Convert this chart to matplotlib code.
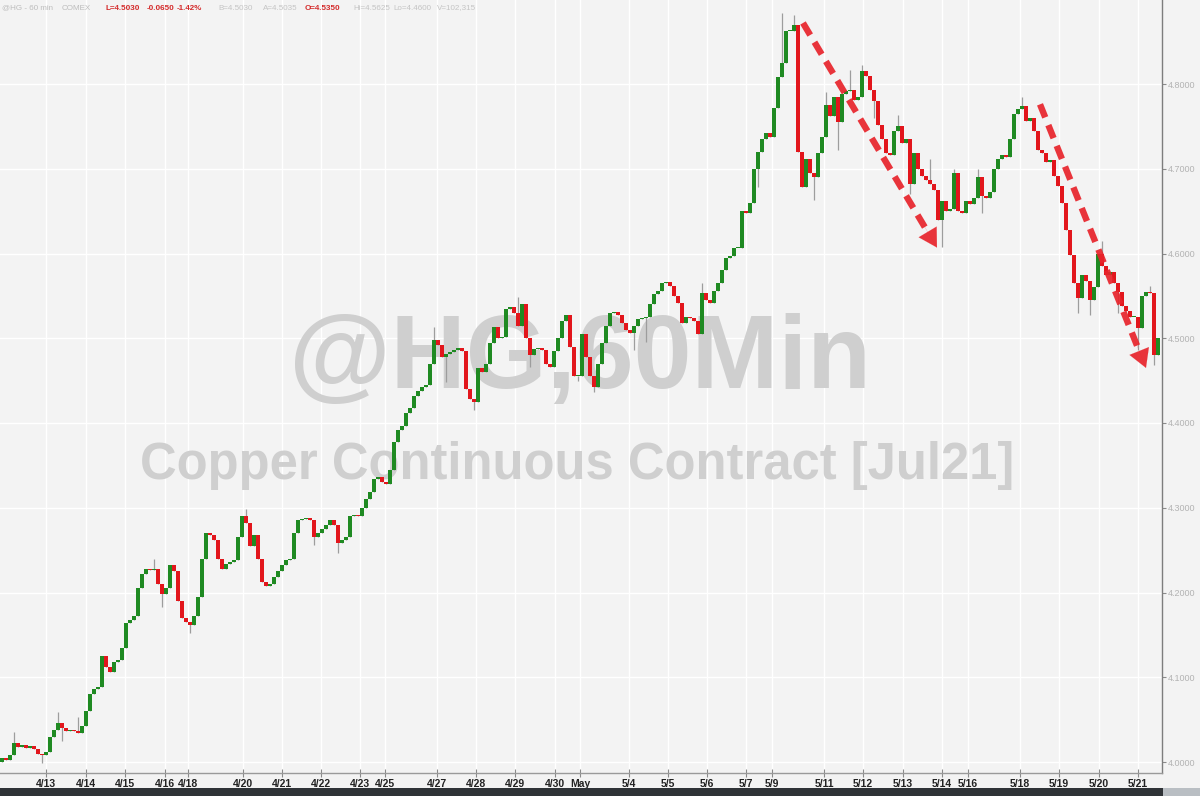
import matplotlib
matplotlib.use("Agg")
import matplotlib.pyplot as plt
from matplotlib.patches import Rectangle
import numpy as np

# ---------------- data ----------------
# closing prices of the candles (about 2.5 hourly bars per candle), in time order
closes_apr_a = [4.005, 4.002, 4.008, 4.022, 4.018, 4.020, 4.016, 4.019, 4.015, 4.010,
                4.008, 4.012, 4.030, 4.038, 4.046, 4.040, 4.036, 4.038, 4.037, 4.034,
                4.042, 4.060, 4.080, 4.086, 4.088, 4.125, 4.112, 4.106, 4.118, 4.120,
                4.135, 4.164, 4.168, 4.172, 4.205, 4.222, 4.228, 4.226, 4.228, 4.210,
                4.198, 4.205, 4.232, 4.225, 4.190, 4.170, 4.165, 4.162, 4.172, 4.195,
                4.240, 4.270, 4.268, 4.262, 4.240, 4.228, 4.234, 4.236, 4.238, 4.265]
closes_apr_b = [4.290, 4.282, 4.255, 4.268, 4.240, 4.212, 4.208, 4.210, 4.218, 4.225,
                4.232, 4.238, 4.240, 4.270, 4.286, 4.287, 4.288, 4.285, 4.265, 4.270,
                4.275, 4.280, 4.286, 4.280, 4.258, 4.262, 4.266, 4.290, 4.292, 4.290,
                4.300, 4.310, 4.318, 4.334, 4.336, 4.330, 4.328, 4.345, 4.378, 4.392,
                4.396, 4.412, 4.418, 4.432, 4.438, 4.442, 4.445, 4.470, 4.498, 4.492,
                4.478, 4.482, 4.484, 4.486, 4.488, 4.485, 4.440, 4.428, 4.425, 4.465]
closes_may_a = [4.460, 4.470, 4.494, 4.513, 4.500, 4.502, 4.535, 4.537, 4.530, 4.515,
                4.540, 4.500, 4.480, 4.487, 4.488, 4.486, 4.470, 4.466, 4.485, 4.500,
                4.520, 4.528, 4.490, 4.455, 4.455, 4.505, 4.478, 4.455, 4.443, 4.470,
                4.494, 4.515, 4.530, 4.531, 4.528, 4.518, 4.510, 4.506, 4.515, 4.523,
                4.524, 4.525, 4.540, 4.552, 4.556, 4.565, 4.566, 4.562, 4.550, 4.542,
                4.518, 4.525, 4.524, 4.520, 4.505, 4.553, 4.545, 4.542, 4.556, 4.565,
                4.580, 4.595]
closes_may_b = [4.597, 4.606, 4.606, 4.650, 4.648, 4.660, 4.700, 4.720, 4.735, 4.742,
                4.738, 4.772, 4.808, 4.825, 4.862, 4.863, 4.870, 4.720, 4.678, 4.712,
                4.695, 4.690, 4.718, 4.738, 4.775, 4.762, 4.785, 4.755, 4.788, 4.792,
                4.793, 4.781, 4.785, 4.815, 4.810, 4.793, 4.780, 4.752, 4.735, 4.718,
                4.716, 4.745, 4.750, 4.730, 4.735, 4.682, 4.718, 4.700, 4.692, 4.687,
                4.682, 4.675, 4.640, 4.662, 4.650, 4.652, 4.695]
closes_may_c = [4.650, 4.648, 4.662, 4.658, 4.665, 4.690, 4.668, 4.665, 4.672, 4.700,
                4.712, 4.716, 4.714, 4.735, 4.765, 4.770, 4.774, 4.756, 4.760, 4.745,
                4.722, 4.718, 4.708, 4.710, 4.692, 4.680, 4.660, 4.628, 4.598, 4.565,
                4.548, 4.575, 4.568, 4.545, 4.560, 4.600, 4.585, 4.575, 4.578, 4.565,
                4.555, 4.538, 4.532, 4.525, 4.525, 4.512, 4.550, 4.555, 4.553, 4.480,
                4.500]
first_open = 4.000

# notable wick extremes {candle index: price}
wick_high = {3: 4.035, 14: 4.059, 19: 4.053, 38: 4.240, 61: 4.298, 108: 4.513,
             129: 4.549, 175: 4.565, 195: 4.884, 198: 4.881, 206: 4.790, 212: 4.816,
             215: 4.823, 224: 4.763, 232: 4.712, 238: 4.700, 244: 4.700, 255: 4.785,
             275: 4.615, 287: 4.562}
wick_low = {10: 3.999, 15: 4.025, 40: 4.183, 47: 4.152, 78: 4.256, 84: 4.247,
            101: 4.400, 111: 4.448, 118: 4.415, 132: 4.466, 144: 4.450, 148: 4.436,
            158: 4.486, 161: 4.496, 189: 4.678, 200: 4.684, 203: 4.663, 209: 4.722,
            218: 4.760, 227: 4.670, 235: 4.608, 245: 4.648, 269: 4.530, 272: 4.527,
            279: 4.530, 284: 4.486, 288: 4.468}

# date labels and the candle index at which each date starts
date_labels = ["4/13", "4/14", "4/15", "4/16", "4/18", "4/20", "4/21", "4/22", "4/23",
               "4/25", "4/27", "4/28", "4/29", "4/30", "May", "5/4", "5/5", "5/6", "5/7",
               "5/9", "5/11", "5/12", "5/13", "5/14", "5/16", "5/18", "5/19", "5/20", "5/21"]
date_index = [11.0, 21.0, 30.75, 40.75, 46.5, 60.25, 70.0, 79.75, 89.5, 95.75, 108.75,
              118.5, 128.25, 138.25, 144.5, 156.75, 166.5, 176.25, 186.0, 192.5, 205.5,
              215.25, 225.25, 235.0, 241.5, 254.5, 264.25, 274.25, 284.0]
price_ticks = [4.0, 4.1, 4.2, 4.3, 4.4, 4.5, 4.6, 4.7, 4.8]

# trend arrows (start, tip) in (candle index, price)
arrow1 = [(200.25, 4.872), (233.75, 4.607)]
arrow2 = [(259.5, 4.776), (286.0, 4.465)]

header_parts = [("@HG - 60 min", "#bdbdbd"), ("COMEX", "#bdbdbd"),
                ("L=4.5030", "#d42a2a"), ("-0.0650", "#d42a2a"), ("-1.42%", "#d42a2a"),
                ("B=4.5030", "#c4c4c4"), ("A=4.5035", "#c4c4c4"), ("O=4.5350", "#d42a2a"),
                ("Hi=4.5625", "#c4c4c4"), ("Lo=4.4600", "#c4c4c4"), ("V=102,315", "#c4c4c4")]
header_x = [2, 62, 106, 147, 177, 218, 263, 305, 353, 393, 437]

# ---------------- figure ----------------
W, H = 1200, 796
BG = "#f3f3f3"
fig = plt.figure(figsize=(W / 100, H / 100), dpi=100, facecolor=BG)
ax_bottom_px = 773
ax = fig.add_axes([0, (H - ax_bottom_px) / H, 1162 / W, ax_bottom_px / H])
ax.set_facecolor(BG)

closes = np.array(closes_apr_a + closes_apr_b + closes_may_a + closes_may_b + closes_may_c)
n = len(closes)
idx = np.arange(n)
opens = np.concatenate([[first_open], closes[:-1]])
body_lo = np.minimum(opens, closes)
body_hi = np.maximum(opens, closes)
highs = body_hi.copy()
lows = body_lo.copy()
for k, v in wick_high.items():
    highs[k] = max(highs[k], v)
for k, v in wick_low.items():
    lows[k] = min(lows[k], v)

ax.set_xlim(-0.5, 290)
ax.set_ylim(4.0 - 11 / 847.5, 4.0 + 762 / 847.5)

# grid
for p in price_ticks:
    ax.axhline(p, color="white", lw=1.0, zorder=0.5)
for d in date_index:
    ax.axvline(d, color="white", lw=1.0, zorder=0.5)

# watermark
ax.text(0.499, 0.532, "@HG,60Min", transform=ax.transAxes, ha="center", va="center",
        fontsize=75, fontweight="bold", color="#cfcfcf", family="Liberation Sans", zorder=1)
ax.text(0.497, 0.398, "Copper Continuous Contract [Jul21]", transform=ax.transAxes,
        ha="center", va="center", fontsize=36.5, fontweight="bold", color="#cfcfcf",
        family="Liberation Sans", zorder=1)

# candles
up = closes >= opens
ax.vlines(idx, lows, highs, color="#9d9d9d", lw=0.9, zorder=2)
heights = np.maximum(body_hi - body_lo, 0.0012)
colors = np.where(up, "#1f8a22", "#e2161c")
ax.bar(idx, heights, bottom=body_lo, width=0.8, color=colors, linewidth=0, zorder=3)

# arrows
RED = "#e8242b"
for (p0, p1) in (arrow1, arrow2):
    x0, y0 = p0
    x1, y1 = p1
    frac = 0.93
    xm = x0 + (x1 - x0) * frac
    ym = y0 + (y1 - y0) * frac
    ax.plot([x0, xm], [y0, ym], color=RED, lw=4.6, ls=(0, (2.2, 1.3)),
            solid_capstyle="butt", dash_capstyle="butt", alpha=0.92, zorder=4)
    xb = x0 + (x1 - x0) * 0.9
    yb = y0 + (y1 - y0) * 0.9
    ax.annotate("", xy=(x1, y1), xytext=(xb, yb),
                arrowprops=dict(arrowstyle="-|>,head_length=1.3,head_width=0.75",
                                color=RED, lw=0.1, alpha=0.92, shrinkA=0, shrinkB=0),
                zorder=4)

# axes styling
for s in ("top", "left"):
    ax.spines[s].set_visible(False)
ax.spines["right"].set_color("#7d7d7d")
ax.spines["right"].set_linewidth(1.0)
ax.spines["bottom"].set_color("#9a9a9a")
ax.spines["bottom"].set_linewidth(1.0)

ax.yaxis.tick_right()
ax.set_yticks(price_ticks)
ax.set_yticklabels([f"{p:.4f}" for p in price_ticks])
ax.tick_params(axis="y", direction="out", length=3, width=0.8, color="#8a8a8a",
               labelsize=6.5, labelcolor="#b3b3b3", pad=1)
ax.set_xticks(date_index)
ax.set_xticklabels(date_labels)
ax.tick_params(axis="x", direction="inout", length=6, width=0.8, color="#8a8a8a",
               labelsize=7.5, labelcolor="#222222", pad=1)
for lab in ax.get_xticklabels():
    lab.set_family(["Liberation Sans Narrow", "Liberation Sans", "DejaVu Sans"])
    lab.set_fontweight("bold")
for lab in ax.get_yticklabels():
    lab.set_family(["Liberation Sans", "DejaVu Sans"])

# header
for (txt, col), xp in zip(header_parts, header_x):
    bold = col == "#d42a2a"
    fig.text(xp / W, 1 - 8 / H, txt, ha="left", va="center", fontsize=5.8, color=col,
             fontweight="bold" if bold else "normal",
             family=["Liberation Sans", "DejaVu Sans"])

# bottom dark bar
fig.patches.append(Rectangle((0, 0), 1163 / W, 8 / H, transform=fig.transFigure,
                             facecolor="#2f3337", edgecolor="none"))
fig.patches.append(Rectangle((1163 / W, 0), 37 / W, 8 / H, transform=fig.transFigure,
                             facecolor="#b9bec3", edgecolor="none"))

fig.savefig("out.png", dpi=100, facecolor=BG)
